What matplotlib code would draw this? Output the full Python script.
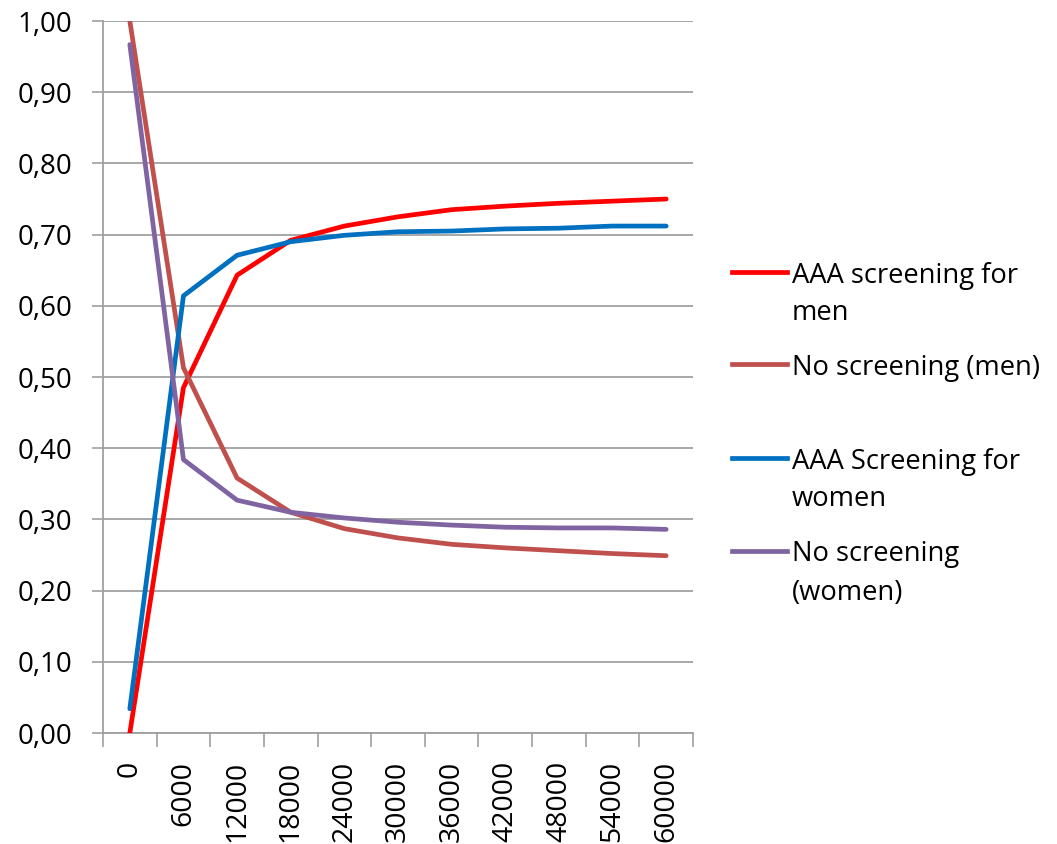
import matplotlib
matplotlib.use("Agg")
import matplotlib.pyplot as plt
from matplotlib.lines import Line2D
from matplotlib.ticker import FixedLocator, FuncFormatter

categories = ["0", "6000", "12000", "18000", "24000", "30000", "36000",
              "42000", "48000", "54000", "60000"]
aaa_men = [0.000, 0.485, 0.643, 0.692, 0.712, 0.725, 0.735, 0.740, 0.744, 0.747, 0.750]
no_men = [1.000, 0.513, 0.358, 0.310, 0.287, 0.274, 0.265, 0.260, 0.256, 0.252, 0.249]
aaa_women = [0.034, 0.614, 0.671, 0.690, 0.699, 0.704, 0.705, 0.708, 0.709, 0.712, 0.712]
no_women = [0.967, 0.384, 0.327, 0.310, 0.302, 0.296, 0.292, 0.289, 0.288, 0.288, 0.286]

series = [
    (["AAA screening for", "men"], aaa_men, "#FF0000"),
    (["No screening (men)"], no_men, "#C0504D"),
    (["AAA Screening for", "women"], aaa_women, "#0070C0"),
    (["No screening", "(women)"], no_women, "#8064A2"),
]

plt.rcParams['font.family'] = ['Open Sans', 'DejaVu Sans']
FS_Y = 20
FS_X = 20.5
FS_L = 19.7
LW = 3.4
grid_c = "#A0A0A0"
W, H = 1057, 844

fig = plt.figure(figsize=(W/100, H/100), dpi=100)
ax = fig.add_axes([103/W, 1-733/H, (693-103)/W, (733-21)/H])

x = list(range(len(categories)))
for label, vals, col in series:
    ax.plot(x, vals, color=col, lw=LW, solid_capstyle='round', zorder=3)

ax.set_xlim(-0.5, len(categories)-0.5)
ax.set_ylim(0, 1.0)
ax.yaxis.set_major_locator(FixedLocator([i/10 for i in range(11)]))
ax.yaxis.set_major_formatter(FuncFormatter(lambda v, p: f"{v:.2f}".replace(".", ",")))
ax.grid(axis='y', color=grid_c, lw=1.3, zorder=0)
ax.set_axisbelow(True)

ax.xaxis.set_major_locator(FixedLocator([i-0.5 for i in range(len(categories)+1)]))
ax.xaxis.set_major_formatter(FuncFormatter(lambda v, p: ""))
ax.xaxis.set_minor_locator(FixedLocator(x))
ax.set_xticklabels(categories, minor=True, rotation=90, fontsize=FS_X, va='top', ha='center')
ax.tick_params(axis='x', which='major', length=10, width=1.2, color=grid_c, direction='out')
ax.tick_params(axis='x', which='minor', length=0, pad=20)
ax.tick_params(axis='y', which='major', length=8, width=1.2, color=grid_c, labelsize=FS_Y, pad=14)

for s in ['top', 'right']:
    ax.spines[s].set_visible(False)
for s in ['left', 'bottom']:
    ax.spines[s].set_color(grid_c)
    ax.spines[s].set_linewidth(1.3)

# legend (manual, Excel style)
leg_y = [272, 364, 458, 551]
line_gap = 38
for (lines, vals, col), yy in zip(series, leg_y):
    yf = 1 - yy/H
    fig.add_artist(Line2D([732/W, 787/W], [yf, yf], color=col, lw=LW,
                          transform=fig.transFigure))
    for k, t in enumerate(lines):
        fig.text(792/W, 1 - (yy + k*line_gap)/H, t, fontsize=FS_L,
                 va='center_baseline', ha='left')

fig.savefig("out.png", dpi=100)
